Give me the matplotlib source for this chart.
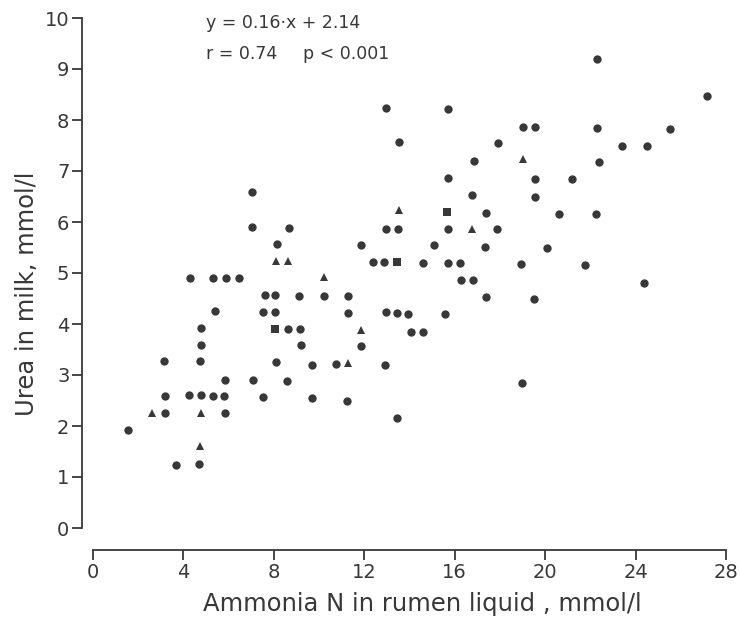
import matplotlib

matplotlib.use("Agg")
import matplotlib.pyplot as plt

# ammonia N in rumen liquid (mmol/l) vs urea in milk (mmol/l)
circle_x = [
    4.29, 5.32, 5.87, 6.45, 5.40, 4.78, 4.78, 3.14, 4.75, 5.86,
    3.20, 4.23, 4.78, 5.31, 5.81, 3.17, 5.84, 1.56, 3.67, 4.68,
    7.04, 7.04, 8.69, 12.95, 13.48, 8.13, 11.86, 12.39, 12.89, 7.61,
    8.05, 9.13, 10.24, 11.30, 7.54, 8.05, 11.28, 12.95, 13.44, 13.95,
    8.61, 9.17, 14.06, 9.20, 11.86, 8.10, 9.69, 10.75, 12.92, 7.07,
    8.60, 7.51, 9.69, 11.25, 13.45, 12.98, 13.55, 18.96,
    22.30, 27.18, 15.71, 19.01, 19.57, 22.30, 25.53, 17.93, 23.38, 24.50,
    16.85, 22.38, 15.69, 19.56, 21.19, 16.78, 19.56, 17.38, 20.62, 22.24,
    15.69, 17.86, 15.09, 17.36, 20.08, 14.59, 15.71, 16.22, 18.95, 21.76,
    16.27, 16.83, 24.36, 17.38, 19.49, 15.56, 14.59,
]
circle_y = [
    4.91, 4.90, 4.90, 4.90, 4.25, 3.93, 3.58, 3.27, 3.27, 2.91,
    2.59, 2.60, 2.60, 2.59, 2.59, 2.25, 2.25, 1.93, 1.24, 1.25,
    6.59, 5.90, 5.88, 5.86, 5.87, 5.56, 5.55, 5.21, 5.21, 4.56,
    4.56, 4.55, 4.54, 4.54, 4.23, 4.24, 4.22, 4.23, 4.22, 4.20,
    3.90, 3.90, 3.85, 3.58, 3.56, 3.25, 3.20, 3.22, 3.19, 2.91,
    2.88, 2.56, 2.55, 2.50, 2.16, 8.24, 7.56, 2.84,
    9.20, 8.48, 8.22, 7.86, 7.86, 7.84, 7.82, 7.54, 7.50, 7.50,
    7.20, 7.17, 6.87, 6.85, 6.84, 6.52, 6.50, 6.18, 6.16, 6.16,
    5.86, 5.86, 5.54, 5.51, 5.50, 5.20, 5.20, 5.20, 5.18, 5.15,
    4.86, 4.86, 4.80, 4.52, 4.50, 4.20, 3.85,
]
triangle_x = [2.60, 4.78, 4.72, 13.53, 8.11, 8.61, 10.22, 11.86, 11.30, 19.03, 16.75]
triangle_y = [2.26, 2.25, 1.60, 6.24, 5.24, 5.24, 4.92, 3.88, 3.23, 7.23, 5.86]
square_x = [8.05, 13.45, 15.68]
square_y = [3.91, 5.22, 6.19]

x_ticks = [0, 4, 8, 12, 16, 20, 24, 28]
y_ticks = list(range(0, 11))

ink = "#383838"
plt.rcParams["font.family"] = "DejaVu Sans"

fig = plt.figure(figsize=(7.4, 6.33), dpi=100)
ax = fig.add_axes([93 / 740, 105 / 633, 633 / 740, 510 / 633])

ax.plot(circle_x, circle_y, "o", ms=6, color=ink, mew=0, clip_on=False)
ax.plot(triangle_x, triangle_y, "^", ms=6, color=ink, mew=0, clip_on=False)
ax.plot(square_x, square_y, "s", ms=5.2, color=ink, mew=0, clip_on=False)

ax.set_xlim(0, 28)
ax.set_ylim(0, 10)
ax.set_xticks(x_ticks)
ax.set_yticks(y_ticks)

for side in ["top", "right"]:
    ax.spines[side].set_visible(False)
ax.spines["left"].set_position(("outward", 8))
ax.spines["bottom"].set_position(("outward", 16))
ax.spines["left"].set_bounds(0, 10)
ax.spines["bottom"].set_bounds(0, 28)
for side in ["left", "bottom"]:
    ax.spines[side].set_color(ink)
    ax.spines[side].set_linewidth(1.3)

ax.tick_params(direction="out", length=7, width=1.3, color=ink,
               labelcolor=ink, labelsize=14, pad=2)

ax.set_xlabel("Ammonia N in rumen liquid , mmol/l", fontsize=17.5, color=ink)
ax.set_ylabel("Urea in milk, mmol/l", fontsize=17.5, color=ink)
ax.xaxis.set_label_coords(0.52, -0.125)
ax.yaxis.set_label_coords(-0.085, 0.46)

ax.text(5.0, 9.9, "y = 0.16·x + 2.14", fontsize=12.5, color=ink, va="center")
ax.text(5.0, 9.3, "r = 0.74", fontsize=12.5, color=ink, va="center")
ax.text(9.3, 9.3, "p < 0.001", fontsize=12.5, color=ink, va="center")

fig.savefig("out.png", dpi=100)
plt.close(fig)
